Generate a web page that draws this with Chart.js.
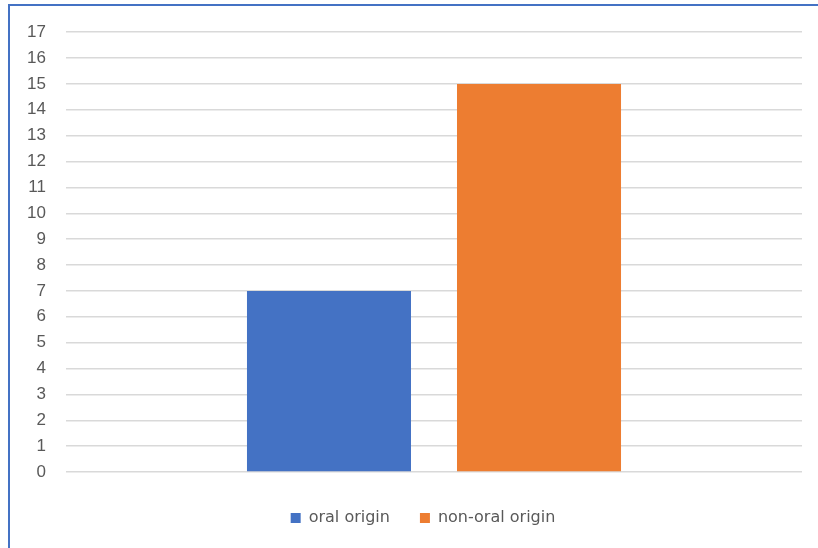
<!DOCTYPE html>
<html>
<head>
<meta charset="utf-8">
<script src="https://cdn.jsdelivr.net/npm/chart.js@4.4.1/dist/chart.umd.min.js"></script>
<style>
    body { margin: 0; background: #fff; overflow: hidden; }
    #frame {
        position: absolute; left: 8px; top: 4px;
        width: 840px; height: 580px;
        border: 2px solid #4472C4;
    }
    #wrap { position: absolute; left: 0; top: 2px; width: 818px; height: 546px; }
</style>
</head>
<body>
<div id="frame"></div>
<div id="wrap"><canvas id="chart" width="818" height="546"></canvas></div>
<script>
// one category, two series
const categories = [""];
const oralOrigin = [7];
const nonOralOrigin = [15];
const yMax = 17;

const tickColor = "#595959";
const gridColor = "#D9D9D9";

// nudge the legend right so it sits under the middle of the frame
const legendShift = {
    id: "legendShift",
    afterLayout(chart) {
        chart.legend.left += 22;
        chart.legend.right += 22;
    }
};

new Chart(document.getElementById("chart"), {
    type: "bar",
    data: {
        labels: categories,
        datasets: [
            {
                label: "oral origin",
                data: oralOrigin,
                backgroundColor: "#4472C4",
                categoryPercentage: 0.5707,
                barPercentage: 0.781
            },
            {
                label: "non-oral origin",
                data: nonOralOrigin,
                backgroundColor: "#ED7D31",
                categoryPercentage: 0.5707,
                barPercentage: 0.781
            }
        ]
    },
    options: {
        responsive: false,
        animation: false,
        layout: { padding: { top: 24, right: 16, bottom: 12, left: 0 } },
        scales: {
            x: {
                ticks: { display: false },
                grid: { display: false },
                border: { display: false }
            },
            y: {
                min: 0,
                max: yMax,
                ticks: {
                    stepSize: 1,
                    padding: 20,
                    color: tickColor,
                    font: { family: "Liberation Sans", size: 17 }
                },
                grid: { color: gridColor, lineWidth: 1.5, drawTicks: false },
                border: { display: false },
                afterFit: function (scale) { scale.width = 66; }
            }
        },
        plugins: {
            legend: {
                position: "bottom",
                labels: {
                    boxWidth: 10,
                    boxHeight: 10,
                    padding: 30,
                    color: tickColor,
                    font: { family: "DejaVu Sans", size: 16 }
                }
            },
            tooltip: { enabled: false }
        }
    },
    plugins: [legendShift]
});
</script>
</body>
</html>
